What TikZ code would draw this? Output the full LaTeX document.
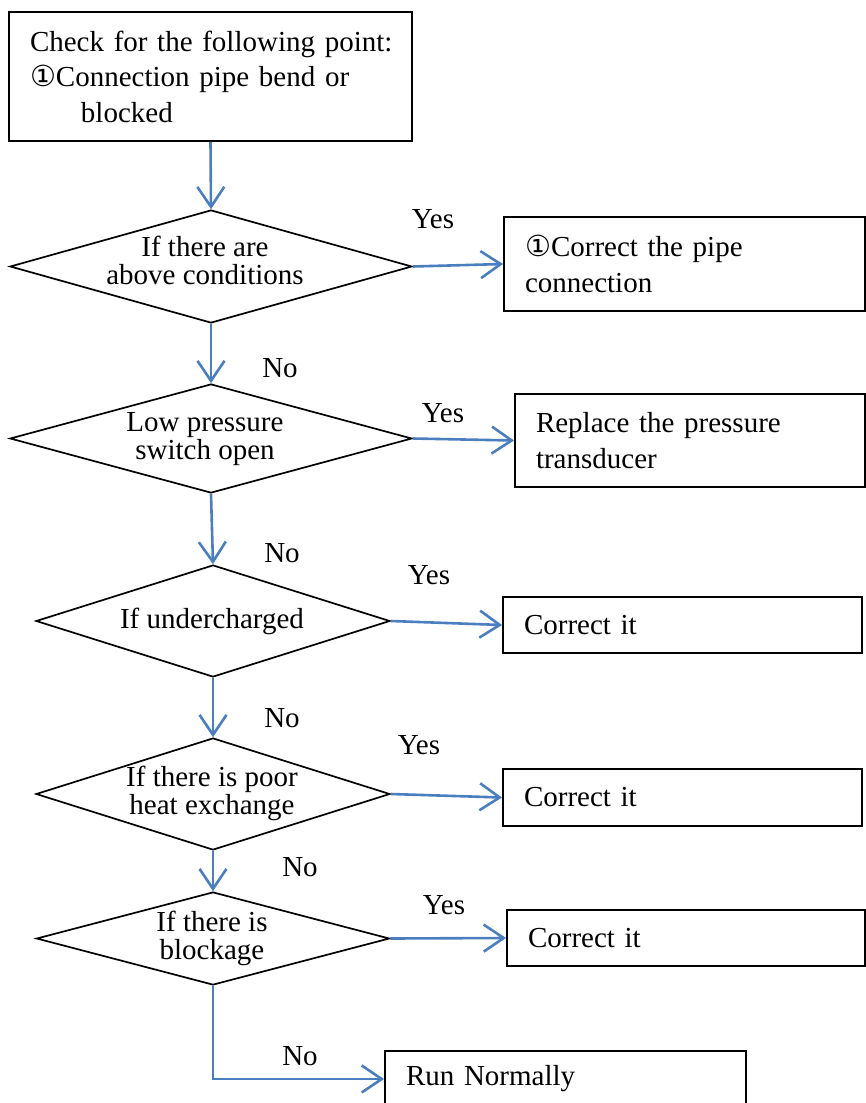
\documentclass[tikz,border=0pt]{standalone}
\usepackage{fontspec}
\setmainfont{Liberation Serif}
\newfontfamily\circfont{DejaVu Sans}
\usetikzlibrary{shapes.geometric,arrows.meta}
\definecolor{flowblue}{HTML}{4A7EBF}
\newcommand{\circone}{{\circfont\char"2460}}
\tikzset{
  txt/.style={font=\fontsize{29}{35.5}\selectfont},
  boxnode/.style={draw=black, line width=1.9pt, rectangle, txt, align=left,
    inner xsep=21pt, inner ysep=0pt},
  dianode/.style={draw=black, line width=1.7pt, diamond, inner sep=0pt, aspect=3.5},
  diatext/.style={font=\fontsize{29}{28}\selectfont, align=center, inner sep=0pt},
  lbl/.style={txt, inner sep=0pt},
  flow/.style={draw=flowblue, line width=2.6pt,
    -{Straight Barb[length=20pt, width=27pt, line width=2.6pt]}}
}
\begin{document}
\begin{tikzpicture}[x=1pt, y=-1pt]
\useasboundingbox (0,0) rectangle (866,1103);

% process boxes
\node[boxnode, text width=361pt, minimum height=129pt] (start) at (210.5,76.5)
  {\mbox{Check for the following point:}\\\mbox{\circone Connection pipe bend or}\\\hspace*{51pt}blocked};
\node[boxnode, text width=319pt, minimum height=94pt] (pipe) at (684.5,264)
  {\circone Correct the pipe\\connection};
\node[boxnode, text width=308pt, minimum height=93pt] (sensor) at (690,440.5)
  {Replace the pressure\\transducer};
\node[boxnode, text width=317pt, minimum height=56pt] (fixa) at (682.5,625) {Correct it};
\node[boxnode, text width=317pt, minimum height=57pt] (fixb) at (682.5,797.5) {Correct it};
\node[boxnode, text width=316pt, minimum height=56pt] (fixc) at (686,938) {Correct it};
\node[boxnode, text width=319pt, minimum height=56pt] (run) at (565.5,1079) {Run Normally};

% decision diamonds
\node[dianode, minimum width=402pt, minimum height=113pt] (qa) at (211,266.5) {};
\node[diatext] (qatext) at (205,260) {If there are\\above conditions};
\node[dianode, minimum width=402pt, minimum height=109pt] (qb) at (211,438.5) {};
\node[diatext] (qbtext) at (205,439) {Low pressure\\switch open};
\node[dianode, minimum width=354pt, minimum height=112pt] (qc) at (213,621) {};
\node[diatext] (qctext) at (212,621) {If undercharged};
\node[dianode, minimum width=354pt, minimum height=112pt] (qd) at (213,794) {};
\node[diatext] (qdtext) at (212,793) {If there is poor\\heat exchange};
\node[dianode, minimum width=353pt, minimum height=93pt] (qe) at (213,938.5) {};
\node[diatext] (qetext) at (212,938) {If there is\\blockage};

% branch labels
\node[lbl] (ya) at (433,219) {Yes};
\node[lbl] (yb) at (443,413) {Yes};
\node[lbl] (yc) at (429,575) {Yes};
\node[lbl] (yd) at (419,745) {Yes};
\node[lbl] (ye) at (444,905) {Yes};
\node[lbl] (na) at (280,368) {No};
\node[lbl] (nb) at (282,553) {No};
\node[lbl] (nc) at (282,718) {No};
\node[lbl] (nd) at (300,867) {No};
\node[lbl] (ne) at (300,1056) {No};

% connectors
\draw[flow] (start.south) -- (qa.north);
\draw[flow] (qa.south) -- (qb.north);
\draw[flow] (qb.south) -- (qc.north);
\draw[flow] (qc.south) -- (qd.north);
\draw[flow] (qd.south) -- (qe.north);
\draw[flow] (qe.south) |- (run.west);
\draw[flow] (qa.east) -- (pipe.west);
\draw[flow] (qb.east) -- (sensor.west);
\draw[flow] (qc.east) -- (fixa.west);
\draw[flow] (qd.east) -- (fixb.west);
\draw[flow] (qe.east) -- (fixc.west);
\end{tikzpicture}
\end{document}
